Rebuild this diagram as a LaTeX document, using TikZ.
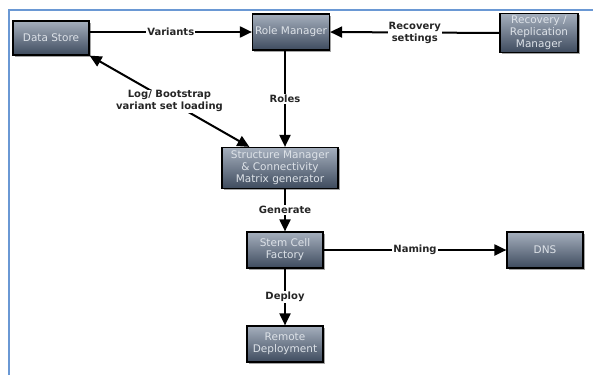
\documentclass[tikz,border=0pt]{standalone}
\usepackage{fontspec}
\setmainfont{DejaVu Sans}
\usetikzlibrary{arrows.meta,shadows}
\definecolor{frameblue}{HTML}{6A98D4}
\definecolor{boxtop}{HTML}{A5AFBD}
\definecolor{boxbot}{HTML}{3E4B5E}
\definecolor{boxtext}{HTML}{DDE2E8}
\tikzset{
	box/.style={draw=black, line width=1.2pt, top color=boxtop, bottom color=boxbot,
		text=boxtext, font=\fontsize{10.5}{12}\selectfont, align=center, inner sep=1pt,
		minimum width=76pt, minimum height=36pt,
		drop shadow={shadow xshift=1.5pt, shadow yshift=-1.5pt, fill=black!70}},
	lbl/.style={fill=white, font=\bfseries\fontsize{10}{12}\selectfont, text=black!85,
		align=center, inner sep=1pt},
	conn/.style={line width=2pt, ->},
	>={Triangle[length=12pt,width=11pt]}
}
\begin{document}
\begin{tikzpicture}[x=1pt, y=-1pt]
	%%%%% START %%%%%
	
	\useasboundingbox (0, 0) rectangle (593, 375);
	\draw[frameblue, line width=1.5pt] (9, 375) -- (9, 10) -- (593, 10);
	
	\node[box, minimum height=34pt] (ds) at (51, 38) {Data Store};
	\node[box, minimum width=77pt] (rm) at (291, 32) {Role Manager};
	\node[box, minimum width=78pt, minimum height=39pt] (rr) at (539, 33) {Recovery /\\Replication\\Manager};
	\node[box, minimum width=116pt, minimum height=41pt] (sm) at (280, 168) {Structure Manager\\\& Connectivity\\Matrix generator};
	\node[box] (sc) at (285, 250) {Stem Cell\\Factory};
	\node[box] (dns) at (545, 250) {DNS};
	\node[box] (rd) at (285, 344) {Remote\\Deployment};
	
	\draw[conn] (ds.east |- rm.west) -- node[lbl] {Variants} (rm.west);
	\draw[conn] (rr.west) -- node[lbl] {Recovery\\settings} (rm.east);
	\draw[conn] (rm.south -| sc) -- node[lbl] {Roles} (sm.north -| sc);
	\draw[conn, <->] (ds.south east) -- node[lbl] {Log/ Bootstrap\\variant set loading} ([xshift=28pt]sm.north west);
	\draw[conn] (sm.south -| sc) -- node[lbl] {Generate} (sc.north);
	\draw[conn] (sc.east) -- node[lbl] {Naming} (dns.west);
	\draw[conn] (sc.south) -- node[lbl] {Deploy} (rd.north);
	
	%%%%% END %%%%%
\end{tikzpicture}
\end{document}
